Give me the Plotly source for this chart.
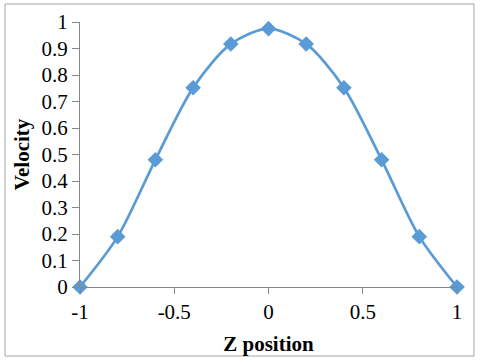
import plotly.graph_objects as go

z_position = [-1.0, -0.8, -0.6, -0.4, -0.2, 0.0, 0.2, 0.4, 0.6, 0.8, 1.0]
velocity = [0.0, 0.19, 0.48, 0.752, 0.917, 0.975, 0.917, 0.752, 0.48, 0.19, 0.0]
x_ticks = [-1, -0.5, 0, 0.5, 1]
y_ticks = [0, 0.1, 0.2, 0.3, 0.4, 0.5, 0.6, 0.7, 0.8, 0.9, 1]

color = "#5B9BD5"
axis_color = "#868686"
font_family = "Liberation Serif, Times New Roman, serif"

fig = go.Figure()
fig.add_trace(go.Scatter(
    x=z_position, y=velocity, mode="lines+markers",
    line=dict(color=color, width=2.75, shape="spline", smoothing=0.8),
    marker=dict(symbol="diamond", size=12, color=color),
    cliponaxis=False, showlegend=False,
))

L, R, T, B = 80, 23, 22, 73
W, H = 480, 360
pw, ph = W - L - R, H - T - B

fig.update_layout(
    width=W, height=H,
    margin=dict(l=L, r=R, t=T, b=B, autoexpand=False),
    paper_bgcolor="white", plot_bgcolor="white",
    font=dict(family=font_family, size=21, color="black"),
    xaxis=dict(
        range=[-1, 1], tickvals=x_ticks, ticktext=[str(v) for v in x_ticks],
        showgrid=False, zeroline=False, showline=True, linecolor=axis_color, linewidth=1,
        ticks="outside", ticklen=6, tickcolor=axis_color, automargin=False,
        tickfont=dict(size=21),
        title=dict(text="<b>Z position</b>", font=dict(size=21), standoff=13),
    ),
    yaxis=dict(
        range=[0, 1], tickvals=y_ticks, ticktext=[("%g" % v) for v in y_ticks],
        showgrid=False, zeroline=False, showline=True, linecolor=axis_color, linewidth=1,
        ticks="outside", ticklen=7, tickcolor=axis_color, automargin=False,
        tickfont=dict(size=21),
        title=dict(text="<b>Velocity</b>", font=dict(size=21), standoff=6),
    ),
    shapes=[dict(
        type="rect", xref="paper", yref="paper",
        x0=(5 - L) / pw, x1=(474 - L) / pw,
        y0=(H - B - 356) / ph, y1=(H - B - 4) / ph,
        line=dict(color="#A6A6A6", width=1), layer="below",
    )],
)

fig.write_html("out.html", config={"displayModeBar": False},
               post_script="document.body.style.margin='0';")
